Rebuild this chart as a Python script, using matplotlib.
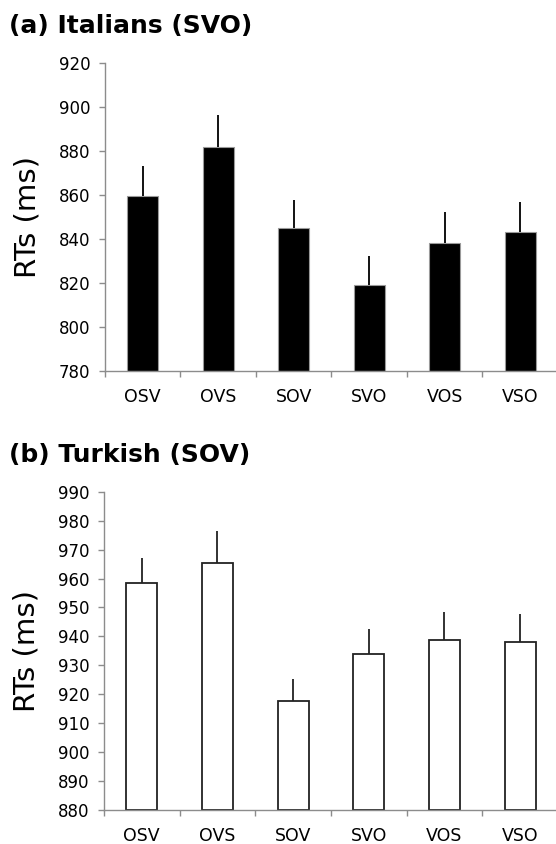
import numpy as np
import matplotlib.pyplot as plt
from matplotlib.ticker import FixedLocator

orders = ["OSV", "OVS", "SOV", "SVO", "VOS", "VSO"]

ita_rt = [859.8, 882.0, 845.0, 819.0, 838.4, 843.4]
ita_err = [13.6, 14.5, 12.8, 13.2, 14.0, 13.4]

tur_rt = [958.4, 965.4, 917.8, 934.0, 938.6, 938.0]
tur_err = [8.6, 11.0, 7.6, 8.4, 9.8, 9.7]

plt.rcParams['font.family'] = ['DejaVu Sans']

fig = plt.figure(figsize=(5.56, 8.44), dpi=100)
ax1 = fig.add_axes([0.1888, 0.5604, 0.8147, 0.3646])
ax2 = fig.add_axes([0.1870, 0.0403, 0.8165, 0.3771])

gray = '#8c8c8c'
x = np.arange(len(orders))


def style(ax, lo, hi, step):
    ax.set_xlim(-0.5, 5.5)
    ax.set_ylim(lo, hi)
    ax.set_yticks(np.arange(lo, hi + 1, step))
    ax.set_xticks(x)
    ax.set_xticklabels(orders)
    ax.xaxis.set_minor_locator(FixedLocator(np.arange(-0.5, 5.0, 1.0)))
    for s in ['top', 'right']:
        ax.spines[s].set_visible(False)
    for s in ['left', 'bottom']:
        ax.spines[s].set_color(gray)
        ax.spines[s].set_linewidth(1.0)
    ax.tick_params(axis='y', direction='out', length=4.5, width=1.0,
                   color=gray, labelsize=12, pad=6)
    ax.tick_params(axis='x', which='major', length=0, labelsize=12.5, pad=12)
    ax.tick_params(axis='x', which='minor', direction='out', length=4.5,
                   width=1.0, color=gray)
    ax.set_ylabel('RTs (ms)', fontsize=21)
    ax.yaxis.set_label_coords(-0.14, 0.5)


# (a) Italians
ax1.bar(x, np.array(ita_rt) - 780, bottom=780, width=0.41, color='black',
        edgecolor='#9a9a9a', linewidth=0.8, zorder=2)
ax1.vlines(x, ita_rt, np.array(ita_rt) + np.array(ita_err),
           color='black', linewidth=1.3, zorder=3)
style(ax1, 780, 920, 20)

# (b) Turkish
ax2.bar(x, np.array(tur_rt) - 880, bottom=880, width=0.41, color='white',
        edgecolor='#222222', linewidth=1.3, zorder=2)
ax2.vlines(x, tur_rt, np.array(tur_rt) + np.array(tur_err),
           color='#222222', linewidth=1.3, zorder=3)
style(ax2, 880, 990, 10)

fig.text(0.016, 1 - 33 / 844, '(a) Italians (SVO)', fontsize=18,
         fontweight='bold', va='baseline', ha='left')
fig.text(0.016, 1 - 462 / 844, '(b) Turkish (SOV)', fontsize=18,
         fontweight='bold', va='baseline', ha='left')

plt.savefig('out.png', dpi=100)
